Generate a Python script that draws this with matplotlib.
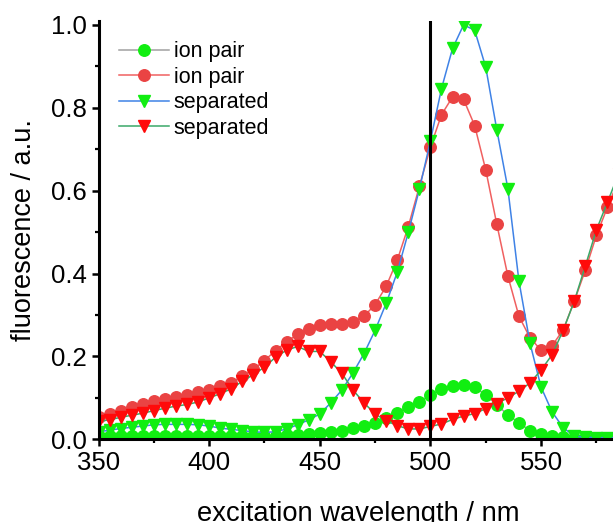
import matplotlib
matplotlib.use("Agg")
import matplotlib.pyplot as plt
from matplotlib.ticker import MultipleLocator, FormatStrFormatter

plt.rcParams['font.family'] = ['Liberation Sans', 'DejaVu Sans']

wavelength = list(range(350, 590, 5))

ion_pair_green = [0.008, 0.008, 0.008, 0.008, 0.008, 0.008, 0.008, 0.008, 0.008, 0.008,
                  0.008, 0.008, 0.008, 0.008, 0.008, 0.009, 0.009, 0.010, 0.011, 0.012,
                  0.015, 0.017, 0.021, 0.027, 0.033, 0.040, 0.051, 0.063, 0.079, 0.091,
                  0.107, 0.122, 0.129, 0.131, 0.126, 0.107, 0.083, 0.059, 0.040, 0.021,
                  0.012, 0.008, 0.005, 0.004, 0.003, 0.003, 0.003, 0.003]

ion_pair_red = [0.054, 0.060, 0.068, 0.077, 0.084, 0.092, 0.097, 0.101, 0.106, 0.113,
                0.119, 0.129, 0.137, 0.152, 0.169, 0.190, 0.214, 0.235, 0.254, 0.266,
                0.275, 0.277, 0.279, 0.283, 0.297, 0.325, 0.369, 0.432, 0.513, 0.610,
                0.705, 0.783, 0.826, 0.820, 0.757, 0.650, 0.519, 0.394, 0.297, 0.245,
                0.215, 0.226, 0.264, 0.333, 0.408, 0.492, 0.560, 0.625]

separated_green = [0.018, 0.022, 0.026, 0.029, 0.032, 0.035, 0.036, 0.036, 0.036, 0.035,
                   0.032, 0.027, 0.024, 0.021, 0.018, 0.017, 0.018, 0.025, 0.035, 0.047,
                   0.061, 0.088, 0.119, 0.160, 0.207, 0.263, 0.328, 0.403, 0.499, 0.603,
                   0.720, 0.846, 0.943, 1.000, 0.987, 0.898, 0.747, 0.605, 0.382, 0.232,
                   0.126, 0.066, 0.028, 0.008, 0.005, 0.004, 0.004, 0.004]

separated_red = [0.043, 0.047, 0.053, 0.058, 0.063, 0.069, 0.075, 0.080, 0.084, 0.090,
                 0.100, 0.110, 0.122, 0.140, 0.156, 0.174, 0.198, 0.215, 0.224, 0.212,
                 0.212, 0.187, 0.159, 0.119, 0.088, 0.061, 0.045, 0.033, 0.025, 0.025,
                 0.031, 0.037, 0.048, 0.056, 0.062, 0.074, 0.086, 0.100, 0.116, 0.136,
                 0.167, 0.204, 0.263, 0.333, 0.418, 0.505, 0.572, 0.640]

labels = ["ion pair", "ion pair", "separated", "separated"]

W, H = 613, 522
fig = plt.figure(figsize=(W / 100, H / 100), dpi=100)
x0, x1 = 98.5, 618.5
y0, y1 = 439.3, 20.7
ax = fig.add_axes([x0 / W, (H - y0) / H, (x1 - x0) / W, (y0 - y1) / H])

ax.plot(wavelength, ion_pair_green, color='#a0a0a0', lw=1.1, marker='o', ms=8.3,
        mfc='#11ee11', mec='#11ee11', label=labels[0])
ax.plot(wavelength, ion_pair_red, color='#f06060', lw=1.1, marker='o', ms=8.3,
        mfc='#ea4343', mec='#ea4343', label=labels[1])
ax.plot(wavelength, separated_green, color='#3f82e6', lw=1.1, marker='v', ms=8.5,
        mfc='#11ee11', mec='#11ee11', label=labels[2])
ax.plot(wavelength, separated_red, color='#3aa868', lw=1.1, marker='v', ms=8.5,
        mfc='#ff0a0a', mec='#ff0a0a', label=labels[3])

ax.axvline(500, color='black', lw=2.2, zorder=5)

ax.set_xlim(350, 585)
ax.set_ylim(0, 1.01)
ax.xaxis.set_major_locator(MultipleLocator(50))
ax.xaxis.set_minor_locator(MultipleLocator(25))
ax.yaxis.set_major_locator(MultipleLocator(0.2))
ax.yaxis.set_minor_locator(MultipleLocator(0.1))
ax.yaxis.set_major_formatter(FormatStrFormatter('%.1f'))

for s in ['top', 'right']:
    ax.spines[s].set_visible(False)
for s in ['left', 'bottom']:
    ax.spines[s].set_linewidth(2.2)

ax.tick_params(which='major', direction='out', length=5, width=1.8, labelsize=18.5, pad=3.5)
ax.tick_params(which='minor', direction='out', length=2.8, width=1.6)

ax.set_xlabel('excitation wavelength / nm', fontsize=19.7, labelpad=19)
ax.set_ylabel('fluorescence / a.u.', fontsize=19.5, labelpad=10)

leg = ax.legend(loc='upper left', bbox_to_anchor=(115 / W, 1 - 37 / H),
                bbox_transform=fig.transFigure, frameon=False, fontsize=15.5,
                handlelength=2.3, handletextpad=0.22, labelspacing=0.21,
                borderpad=0.2, borderaxespad=0)

fig.savefig('out.png', dpi=100)
